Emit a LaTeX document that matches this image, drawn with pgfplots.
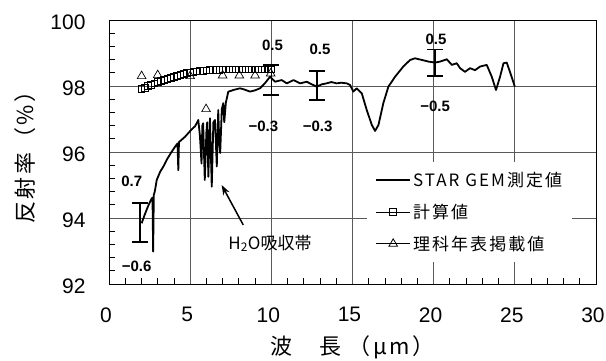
\documentclass[border=0pt]{standalone}
\usepackage{pgfplots}
\pgfplotsset{compat=1.18}
\usepackage{fontspec}
\setmainfont{Liberation Sans}
\newfontfamily\jp{Noto Sans CJK JP}
\newfontfamily\jpls[LetterSpace=12]{Noto Sans CJK JP}
\usetikzlibrary{arrows.meta}
\begin{document}
\begin{tikzpicture}
\useasboundingbox (-109pt,-76pt) rectangle (497pt,284pt);
\begin{axis}[
  scale only axis, width=487pt, height=264pt,
  xmin=0, xmax=30, ymin=92, ymax=100,
  xtick={0,5,...,30}, ytick={92,94,...,100},
  minor x tick num=4, minor y tick num=4,
  tick align=inside, tick pos=left,
  major tick length=0pt, minor tick length=6pt,
  grid=major, major grid style={gray!70!black, line width=0.9pt},
  axis line style={line width=0.9pt},
  every tick/.style={black, line width=0.8pt},
  /pgf/number format/assume math mode=true,
  tick label style={font=\fontsize{21}{24}\selectfont},
  yticklabel style={xshift=-20pt, yshift=-2pt},
  xticklabel style={yshift=-20pt, xshift=-3pt},
  xlabel={\jpls\fontsize{22}{26}\selectfont 波　長 （μm）},
  ylabel={\jpls\fontsize{22}{26}\selectfont 反射率（\%）},
  xlabel style={at={(axis description cs:0.5,-0.2386)}, anchor=center},
  ylabel style={at={(axis description cs:-0.1725,0.5)}, anchor=center},
  legend style={at={(rel axis cs:0.53,0.462)}, anchor=north west, draw=none, fill=white,
    font=\jpls\fontsize{17}{20}\selectfont, row sep=12pt, inner xsep=8pt, inner ysep=8pt},
  legend cell align=left,
  legend image code/.code={\draw[mark repeat=2,mark phase=2,#1] plot coordinates {(0pt,0pt)(17pt,0pt)(34pt,0pt)};},
]
% measured
\addplot[black, line width=1.8pt, line join=round, forget plot] coordinates {
(2.01,93.84)(2.2,94.1)(2.4,94.35)(2.53,94.49)(2.62,94.58)(2.68,94.62)(2.72,92.98)(2.76,94.7)(2.82,94.8)
(2.94,95.15)(3.15,95.4)(3.35,95.56)(3.6,95.8)(3.85,96.0)(4.07,96.16)(4.22,96.26)(4.27,95.45)(4.31,96.3)
(4.68,96.46)(5.1,96.69)(5.3,96.78)(5.4,96.87)(5.5,96.97)(5.6,96.5)(5.7,95.65)(5.75,96.8)(5.8,96.87)
(5.9,95.15)(6.0,96.6)(6.05,96.9)(6.12,95.25)(6.22,97.02)(6.33,94.95)(6.43,96.9)(6.53,96.97)(6.64,95.56)
(6.73,97.27)(6.8,96.2)(6.85,95.97)(6.95,97.3)(7.04,97.48)(7.1,96.9)(7.2,97.5)(7.35,97.83)(7.5,97.85)
(7.66,97.88)(8.07,97.93)(8.3,97.9)(8.69,97.83)(9.0,97.87)(9.3,97.93)(9.6,98.08)(9.92,98.28)(10.23,98.13)
(10.64,98.18)(10.95,98.08)(11.36,98.18)(11.77,98.08)(12.18,98.13)(12.5,98.05)(12.8,97.98)(13.1,98.05)
(13.4,98.08)(13.7,98.12)(14.03,98.08)(14.3,98.1)(14.65,98.08)(14.85,98.03)(15.05,97.83)(15.26,97.93)
(15.57,97.78)(15.88,97.27)(16.19,96.82)(16.39,96.64)(16.6,96.82)(16.9,97.48)(17.21,97.98)(17.62,98.28)
(18.13,98.59)(18.55,98.79)(18.85,98.84)(19.27,98.79)(19.68,98.74)(20.09,98.71)(20.39,98.74)(20.81,98.81)
(21.12,98.64)(21.42,98.69)(21.63,98.54)(21.93,98.43)(22.24,98.54)(22.55,98.48)(22.86,98.59)(23.27,98.64)
(23.58,98.28)(23.84,97.88)(24.09,98.28)(24.3,98.69)(24.5,98.71)(24.7,98.43)(25.0,97.98)
};
% calculated
\addplot[black, only marks, mark=square, mark size=3.4pt, line width=0.9pt, forget plot] coordinates {
(2.0,97.9)(2.2,97.95)(2.4,98.0)(2.6,98.04)(2.8,98.08)(3.0,98.12)(3.2,98.15)(3.4,98.19)(3.6,98.22)
(3.8,98.25)(4.0,98.28)(4.2,98.31)(4.4,98.34)(4.6,98.37)(4.8,98.39)(5.0,98.41)(5.2,98.43)(5.4,98.44)
(5.6,98.45)(5.8,98.46)(6.0,98.47)(6.2,98.48)(6.4,98.48)(6.6,98.49)(6.8,98.49)(7.0,98.5)(7.2,98.5)
(7.4,98.5)(7.6,98.5)(7.8,98.5)(8.0,98.5)(8.2,98.5)(8.4,98.5)(8.6,98.5)(8.8,98.5)(9.0,98.5)(9.2,98.5)
(9.4,98.5)(9.6,98.5)(9.8,98.5)(10.0,98.5)
};
% handbook values
\addplot[black, only marks, mark=triangle, mark size=5pt, line width=0.7pt, forget plot] coordinates {
(2.01,98.3)(3.0,98.33)(5.0,98.3)(5.98,97.3)(7.0,98.32)(8.03,98.32)(9.0,98.32)(9.96,98.38)
};
% error bars
\addplot[draw=none, mark=none, forget plot,
  error bars/.cd, y dir=both, y explicit,
  error bar style={draw=black, line width=1.5pt},
  error mark options={draw=black, rotate=90, mark size=8pt, line width=1.5pt}] coordinates {
(1.92,93.85) += (0,0.6) -= (0,0.57)
(10.0,98.2) += (0,0.44) -= (0,0.47)
(12.8,98.0) += (0,0.46) -= (0,0.42)
(20.09,98.7) += (0,0.41) -= (0,0.39)
};
\addlegendimage{black, line width=1.8pt}
\addlegendentry{STAR GEM測定値}
\addlegendimage{black, line width=0.8pt, mark=square, mark size=3.4pt}
\addlegendentry{計算値}
\addlegendimage{black, line width=0.8pt, mark=triangle, mark size=5pt}
\addlegendentry{理科年表掲載値}
% labels
\begin{scope}[every node/.style={font=\bfseries\fontsize{15}{18}\selectfont}]
\node at (axis cs:1.4,95.1) {0.7};
\node at (axis cs:1.7,92.55) {−0.6};
\node at (axis cs:10.07,99.22) {0.5};
\node at (axis cs:9.51,96.77) {−0.3};
\node at (axis cs:13.0,99.11) {0.5};
\node at (axis cs:12.85,96.77) {−0.3};
\node at (axis cs:20.14,99.41) {0.5};
\node at (axis cs:20.09,97.37) {−0.5};
\end{scope}
\node[font=\jp\fontsize{17}{20}\selectfont] at (axis cs:9.92,93.23) {H\textsubscript{2}O吸収帯};
\draw[-{Stealth[length=10pt,width=7pt]}, line width=1.5pt] (axis cs:8.27,93.79) -- (axis cs:6.94,95.0);
\end{axis}
\end{tikzpicture}
\end{document}
